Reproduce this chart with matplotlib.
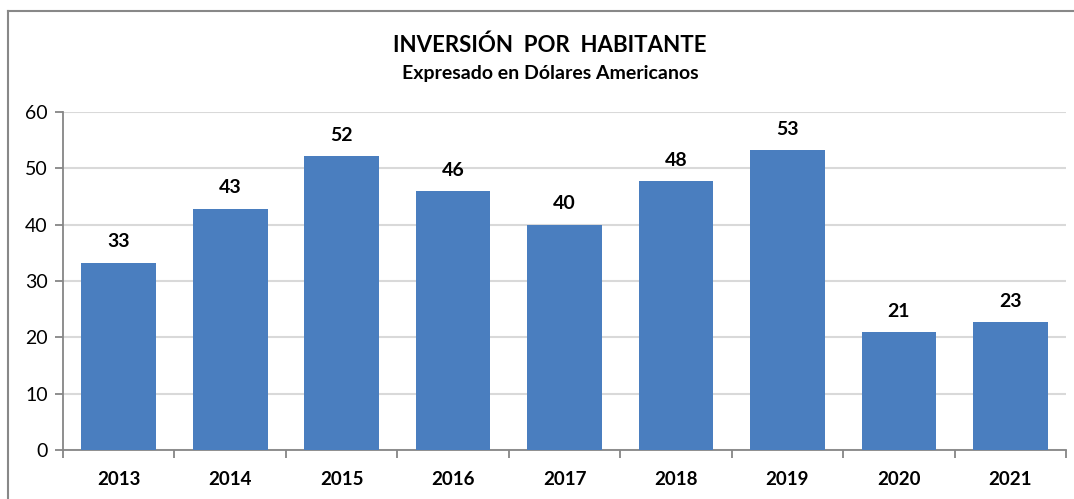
import matplotlib.pyplot as plt
from matplotlib.lines import Line2D
import numpy as np

plt.rcParams['font.family'] = ['Lato', 'DejaVu Sans']

# Inversión por habitante (USD)
years = ['2013', '2014', '2015', '2016', '2017', '2018', '2019', '2020', '2021']
inversion = [33.2, 42.8, 52.1, 45.9, 40.0, 47.7, 53.2, 20.9, 22.7]
y_ticks = [0, 10, 20, 30, 40, 50, 60]

bar_color = '#4a7ebf'
axis_color = '#868686'

fig = plt.figure(figsize=(10.74, 4.99), dpi=100)
ax = fig.add_axes([0.0587, 0.0982, 0.9339, 0.6774])

x = np.arange(len(years))
bars = ax.bar(x, inversion, width=0.67, color=bar_color, zorder=3)

for rect, val in zip(bars, inversion):
    ax.annotate(f'{val:.0f}', (rect.get_x() + rect.get_width() / 2, val),
                xytext=(0, 9), textcoords='offset points',
                ha='center', va='bottom', fontsize=14, fontweight='bold')

ax.set_xlim(-0.5, len(years) - 0.5)
ax.set_ylim(0, 60)
ax.set_yticks(y_ticks)
ax.set_xticks(x)
ax.set_xticklabels(years, fontsize=13.5, fontweight='bold')
ax.set_xticks(np.arange(-0.5, len(years), 1), minor=True)
ax.tick_params(axis='x', which='major', length=0, pad=15)
ax.tick_params(axis='x', which='minor', length=6, width=1.3, color=axis_color, direction='out')
ax.tick_params(axis='y', length=6, width=1.3, color=axis_color, labelsize=14, pad=5)

ax.grid(axis='y', color='#d9d9d9', linewidth=1.5, zorder=0)
ax.set_axisbelow(True)
for side in ['top', 'right']:
    ax.spines[side].set_visible(False)
for side in ['left', 'bottom']:
    ax.spines[side].set_color(axis_color)
    ax.spines[side].set_linewidth(1.3)

fig.text(0.512, 0.91, 'INVERSIÓN  POR  HABITANTE', ha='center', va='center',
         fontsize=16, fontweight='bold')
fig.text(0.512, 0.853, 'Expresado en Dólares Americanos', ha='center', va='center',
         fontsize=14, fontweight='bold')

# outer chart frame (left and top edges)
fx = 8 / 1074
fy = 1 - 11 / 499
fig.add_artist(Line2D([fx, fx], [0, fy], transform=fig.transFigure, color='#888888', linewidth=1.5))
fig.add_artist(Line2D([fx, 1], [fy, fy], transform=fig.transFigure, color='#888888', linewidth=1.5))

fig.savefig('out.png', dpi=100)
